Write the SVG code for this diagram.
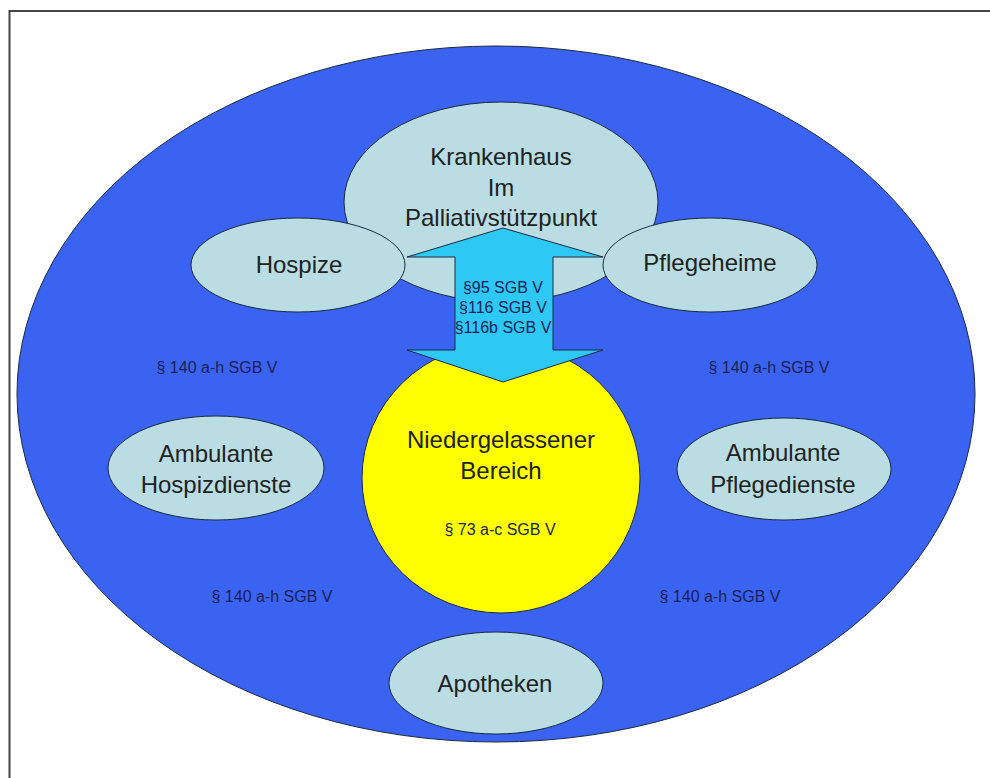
<svg xmlns="http://www.w3.org/2000/svg" width="990" height="778" viewBox="0 0 990 778">
<style>
.node{fill:#B9DDE2;stroke:#1a2a40;stroke-width:1}
.lbl{font-family:"Liberation Sans",Arial,sans-serif;font-size:24px;fill:#222;text-anchor:middle}
.small{font-family:"Liberation Sans",Arial,sans-serif;font-size:16px;fill:#1a1f55;text-anchor:middle}
</style>
<rect x="0" y="0" width="990" height="778" fill="#fff"/>
<rect x="9.5" y="11" width="1000" height="800" fill="none" stroke="#444" stroke-width="2"/>
<g id="outer">
<ellipse cx="496" cy="394" rx="479" ry="348" fill="#3A63F2" stroke="#1a2a40" stroke-width="1"/>
</g>
<g id="krankenhaus">
<ellipse class="node" cx="501" cy="202" rx="157" ry="100"/>
<text class="lbl" x="501" y="165">Krankenhaus</text>
<text class="lbl" x="501" y="196">Im</text>
<text class="lbl" x="501" y="226">Palliativstützpunkt</text>
</g>
<g id="hospize">
<ellipse class="node" cx="298" cy="265" rx="107" ry="47"/>
<text class="lbl" x="299" y="273">Hospize</text>
</g>
<g id="pflegeheime">
<ellipse class="node" cx="710" cy="265" rx="107" ry="47"/>
<text class="lbl" x="710" y="271">Pflegeheime</text>
</g>
<g id="niedergelassen">
<ellipse cx="501" cy="478" rx="139" ry="135" fill="#FFFF00" stroke="#1a2a40" stroke-width="1"/>
<text class="lbl" x="501" y="448">Niedergelassener</text>
<text class="lbl" x="501" y="479">Bereich</text>
<text class="small" x="500" y="535">§ 73 a-c SGB V</text>
</g>
<g id="connectors">
<path d="M503,228 L603,257 L553,257 L553,350 L603,350 L503,382 L407,350 L455,350 L455,257 L407,257 Z" fill="#2EC8F5" stroke="#1a2a40" stroke-width="1"/>
<text class="small" x="503" y="293">§95 SGB V</text>
<text class="small" x="503" y="313">§116 SGB V</text>
<text class="small" x="503" y="333">§116b SGB V</text>
</g>
<g id="amb-hospiz">
<ellipse class="node" cx="216" cy="468" rx="108" ry="52"/>
<text class="lbl" x="216" y="462">Ambulante</text>
<text class="lbl" x="216" y="493">Hospizdienste</text>
</g>
<g id="amb-pflege">
<ellipse class="node" cx="784" cy="469" rx="107" ry="51"/>
<text class="lbl" x="783" y="461">Ambulante</text>
<text class="lbl" x="783" y="493">Pflegedienste</text>
</g>
<g id="apotheken">
<ellipse class="node" cx="496" cy="683" rx="107" ry="51"/>
<text class="lbl" x="495" y="692">Apotheken</text>
</g>
<g id="labels">
<text class="small" x="217" y="373">§ 140 a-h SGB V</text>
<text class="small" x="769" y="373">§ 140 a-h SGB V</text>
<text class="small" x="272" y="602">§ 140 a-h SGB V</text>
<text class="small" x="720" y="602">§ 140 a-h SGB V</text>
</g>
</svg>
